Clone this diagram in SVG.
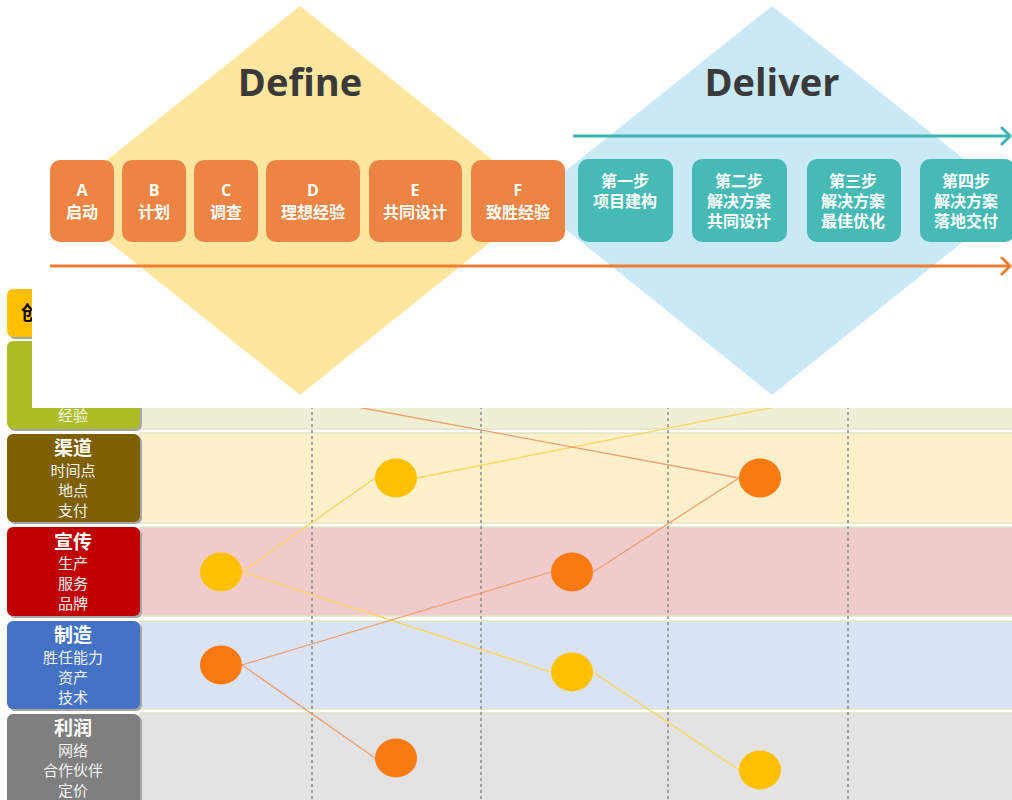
<svg xmlns="http://www.w3.org/2000/svg" width="1012" height="800" viewBox="0 0 1012 800">
<defs>
<style>
.lbl{font-family:"Noto Sans CJK SC","Noto Sans",sans-serif;fill:#F2F2F2;text-anchor:middle;font-size:15px}
.lblt{font-family:"Noto Sans CJK SC","Noto Sans",sans-serif;fill:#FFFFFF;text-anchor:middle;font-size:19px;font-weight:bold}
.bt{font-family:"Open Sans","Noto Sans CJK SC",sans-serif;fill:#FFFFFF;text-anchor:middle;font-size:16px;font-weight:bold}
.bc{font-family:"Noto Sans CJK SC",sans-serif;fill:#FFFFFF;text-anchor:middle;font-size:16px;font-weight:bold}
.title{font-family:"Open Sans","Noto Sans",sans-serif;fill:#3A3A3A;text-anchor:middle;font-size:38px;font-weight:bold}
.bo{fill:#EE8443}
.btl{fill:#48BAB5}
.row{stroke:#E2E4C8;stroke-width:1.5}
.shadow{fill:#A6A6A6}
.dash{stroke:#7F7F7F;stroke-width:1.3;stroke-dasharray:3 3}
.ly{stroke:#FFD45A;stroke-width:1.3;fill:none}
.lo{stroke:#EFA070;stroke-width:1.3;fill:none}
.dy{fill:#FFC000}
.do{fill:#FA7A12}
</style>
</defs>
<rect width="1012" height="800" fill="#FFFFFF"/>

<g id="rows">
<rect class="row" x="140" y="341" width="880" height="88" fill="#EEEFD4"/>
<rect class="row" x="140" y="433" width="880" height="90" fill="#FFF0CC"/>
<rect class="row" x="140" y="527" width="880" height="89" fill="#F0CBCB"/>
<rect class="row" x="140" y="621" width="880" height="88" fill="#DAE3F3"/>
<rect class="row" x="140" y="713" width="880" height="95" fill="#E3E3E3"/>
</g>

<g id="grid">
<line class="dash" x1="312" y1="400" x2="312" y2="800"/>
<line class="dash" x1="481" y1="400" x2="481" y2="800"/>
<line class="dash" x1="668" y1="400" x2="668" y2="800"/>
<line class="dash" x1="848" y1="400" x2="848" y2="800"/>
</g>

<g id="labels">
<g id="label-chuang">
<rect class="shadow" x="9" y="291" width="133" height="48" rx="6"/>
<rect x="7" y="289" width="133" height="48" rx="6" fill="#FFC000"/>
<text x="21" y="320" font-family="Noto Sans CJK SC,sans-serif" font-size="19" font-weight="bold" fill="#000000">创</text>
</g>
<g id="label-jingyan">
<rect class="shadow" x="9" y="343" width="133" height="88" rx="6"/>
<rect x="7" y="341" width="133" height="88" rx="6" fill="#AEBD26"/>
<text class="lbl" x="73" y="421">经验</text>
</g>
<g id="label-qudao">
<rect class="shadow" x="9" y="436" width="133" height="88" rx="6"/>
<rect x="7" y="434" width="133" height="88" rx="6" fill="#7F6000"/>
<text class="lblt" x="73" y="455">渠道</text>
<text class="lbl" x="73" y="476">时间点</text>
<text class="lbl" x="73" y="496">地点</text>
<text class="lbl" x="73" y="516">支付</text>
</g>
<g id="label-xuanchuan">
<rect class="shadow" x="9" y="529" width="133" height="89" rx="6"/>
<rect x="7" y="527" width="133" height="89" rx="6" fill="#C00000"/>
<text class="lblt" x="73" y="549">宣传</text>
<text class="lbl" x="73" y="569">生产</text>
<text class="lbl" x="73" y="589">服务</text>
<text class="lbl" x="73" y="609">品牌</text>
</g>
<g id="label-zhizao">
<rect class="shadow" x="9" y="623" width="133" height="88" rx="6"/>
<rect x="7" y="621" width="133" height="88" rx="6" fill="#4472C4"/>
<text class="lblt" x="73" y="642">制造</text>
<text class="lbl" x="73" y="663">胜任能力</text>
<text class="lbl" x="73" y="683">资产</text>
<text class="lbl" x="73" y="703">技术</text>
</g>
<g id="label-lirun">
<rect class="shadow" x="9" y="716" width="133" height="92" rx="6"/>
<rect x="7" y="714" width="133" height="92" rx="6" fill="#7F7F7F"/>
<text class="lblt" x="73" y="735">利润</text>
<text class="lbl" x="73" y="756">网络</text>
<text class="lbl" x="73" y="776">合作伙伴</text>
<text class="lbl" x="73" y="796">定价</text>
</g>
</g>

<g id="connectors">
<line class="ly" x1="242" y1="572" x2="375" y2="478"/>
<line class="ly" x1="417" y1="478" x2="800" y2="402"/>
<line class="lo" x1="330" y1="402" x2="739" y2="478"/>
<line class="lo" x1="739" y1="478" x2="593" y2="572"/>
<line class="ly" x1="242" y1="572" x2="551" y2="672"/>
<line class="lo" x1="551" y1="572" x2="242" y2="665"/>
<line class="lo" x1="242" y1="665" x2="375" y2="758"/>
<line class="ly" x1="593" y1="672" x2="739" y2="770"/>
</g>

<g id="dots">
<ellipse id="dot1" class="dy" cx="396" cy="478" rx="21" ry="19.5"/>
<ellipse id="dot2" class="do" cx="760" cy="478" rx="21" ry="19.5"/>
<ellipse id="dot3" class="dy" cx="221" cy="572" rx="21" ry="19.5"/>
<ellipse id="dot4" class="do" cx="572" cy="572" rx="21" ry="19.5"/>
<ellipse id="dot5" class="do" cx="221" cy="665" rx="21" ry="19.5"/>
<ellipse id="dot6" class="dy" cx="572" cy="672" rx="21" ry="19.5"/>
<ellipse id="dot7" class="do" cx="396" cy="758" rx="21" ry="19.5"/>
<ellipse id="dot8" class="dy" cx="760" cy="770" rx="21" ry="19.5"/>
</g>

<rect x="32" y="0" width="980" height="408" fill="#FFFFFF"/>

<g id="define">
<polygon points="300,6 543,200 300,395 57,200" fill="#FEE69E"/>
<text class="title" x="300" y="96">Define</text>
</g>
<g id="deliver">
<polygon points="772,6 1015,200 772,395 529,200" fill="#CAE9F6"/>
<text class="title" x="772" y="96">Deliver</text>
</g>

<g id="arrows">
<line x1="573" y1="136" x2="1010" y2="136" stroke="#3CB4B0" stroke-width="3"/>
<polyline points="1002,128 1010,136 1002,144" fill="none" stroke="#3CB4B0" stroke-width="3" stroke-linecap="round" stroke-linejoin="round"/>
<line x1="50" y1="266" x2="1010" y2="266" stroke="#ED7D31" stroke-width="3"/>
<polyline points="1002,258 1010,266 1002,274" fill="none" stroke="#ED7D31" stroke-width="3" stroke-linecap="round" stroke-linejoin="round"/>
</g>

<g id="step-a"><rect class="bo" x="50" y="160" width="64" height="82" rx="10"/><text class="bt" x="82" y="196">A</text><text class="bc" x="82" y="218">启动</text></g>
<g id="step-b"><rect class="bo" x="122" y="160" width="64" height="82" rx="10"/><text class="bt" x="154" y="196">B</text><text class="bc" x="154" y="218">计划</text></g>
<g id="step-c"><rect class="bo" x="194" y="160" width="64" height="82" rx="10"/><text class="bt" x="226" y="196">C</text><text class="bc" x="226" y="218">调查</text></g>
<g id="step-d"><rect class="bo" x="266" y="160" width="94" height="82" rx="10"/><text class="bt" x="313" y="196">D</text><text class="bc" x="313" y="218">理想经验</text></g>
<g id="step-e"><rect class="bo" x="369" y="160" width="93" height="82" rx="10"/><text class="bt" x="415" y="196">E</text><text class="bc" x="415" y="218">共同设计</text></g>
<g id="step-f"><rect class="bo" x="471" y="160" width="94" height="82" rx="10"/><text class="bt" x="518" y="196">F</text><text class="bc" x="518" y="218">致胜经验</text></g>

<g id="step-1"><rect class="btl" x="578" y="159" width="95" height="83" rx="10"/><text class="bc" x="625" y="187">第一步</text><text class="bc" x="625" y="207">项目建构</text></g>
<g id="step-2"><rect class="btl" x="692" y="159" width="95" height="83" rx="10"/><text class="bc" x="739" y="187">第二步</text><text class="bc" x="739" y="207">解决方案</text><text class="bc" x="739" y="227">共同设计</text></g>
<g id="step-3"><rect class="btl" x="807" y="159" width="94" height="83" rx="10"/><text class="bc" x="853" y="187">第三步</text><text class="bc" x="853" y="207">解决方案</text><text class="bc" x="853" y="227">最佳优化</text></g>
<g id="step-4"><rect class="btl" x="920" y="159" width="95" height="83" rx="10"/><text class="bc" x="966" y="187">第四步</text><text class="bc" x="966" y="207">解决方案</text><text class="bc" x="966" y="227">落地交付</text></g>
</svg>
